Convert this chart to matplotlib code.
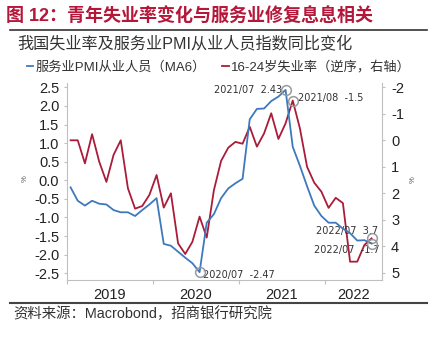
import numpy as np
import matplotlib
matplotlib.use('Agg')
import matplotlib.pyplot as plt
from matplotlib.lines import Line2D

plt.rcParams['font.family'] = ['Liberation Sans', 'Noto Sans CJK SC']

# monthly data, 2019/01 .. 2022/07
months = ['2019/%02d' % m for m in range(1, 13)] + \
         ['2020/%02d' % m for m in range(1, 13)] + \
         ['2021/%02d' % m for m in range(1, 13)] + \
         ['2022/%02d' % m for m in range(1, 8)]

# services PMI employment index, yoy change (MA6), left axis
pmi_emp = [-0.19, -0.55, -0.68, -0.55, -0.63, -0.65, -0.80, -0.86, -0.86, -0.96, -0.80, -0.65,
           -0.48, -1.71, -1.76, -1.92, -2.08, -2.23, -2.47, -1.14, -0.91, -0.48, -0.22, -0.08,
           0.04, 1.64, 1.92, 1.93, 2.13, 2.25, 2.43, 0.90, 0.39, -0.16, -0.68, -0.96,
           -1.14, -1.14, -1.30, -1.42, -1.62, -1.61, -1.70]

# 16-24 unemployment rate, yoy change, right axis (inverted)
youth_unemp = [0.00, 0.00, 0.87, -0.23, 0.81, 1.57, 0.55, 0.00, 1.81, 2.58, 2.48, 2.06,
               1.31, 2.54, 2.00, 3.89, 4.29, 3.83, 2.88, 3.67, 1.88, 0.78, 0.28, 0.06,
               0.13, -0.51, 0.24, -0.26, -1.02, -0.05, -0.64, -1.50, -0.45, 1.00, 1.60, 1.94,
               2.55, 2.17, 2.37, 4.58, 4.58, 3.95, 3.70]

years = [2019, 2020, 2021, 2022]
left_ticks = [2.5, 2.0, 1.5, 1.0, 0.5, 0.0, -0.5, -1.0, -1.5, -2.0, -2.5]
right_ticks = [-2, -1, 0, 1, 2, 3, 4, 5]

blue = '#3D79BC'
red = '#A91C3A'
grey = '#BFBFBF'


def to_x(s):
    y, m = s.split('/')
    return int(y) + (int(m) - 0.5) / 12


x = np.array([to_x(m) for m in months])
xmax = 2022.663

fig = plt.figure(figsize=(4.38, 3.41), dpi=100)
ax = fig.add_axes([67 / 438, 1 - 279.5 / 341, 315 / 438, (279.5 - 83) / 341])
ax2 = ax.twinx()

l1, = ax.plot(x, pmi_emp, color=blue, lw=1.3, zorder=3)
l2, = ax2.plot(x, youth_unemp, color=red, lw=1.3, zorder=2)

ax.set_xlim(2019.0, xmax)
ax.set_ylim(-2.667, 2.616)
ax2.set_ylim(5.253, -2.162)

ax.set_yticks(left_ticks)
ax.set_yticklabels(['%.1f' % v for v in left_ticks])
ax2.set_yticks(right_ticks)
ax2.set_yticklabels([str(v) for v in right_ticks])

# year ticks at boundaries, labels centred in each year
ax.set_xticks(years)
ax.set_xticklabels([])
centres = [2019.5, 2020.5, 2021.5, (2022 + xmax) / 2]
ax.set_xticks(centres, minor=True)
ax.set_xticklabels([str(y) for y in years], minor=True)
ax.tick_params(axis='x', which='minor', length=0, pad=6, labelsize=10.5, labelcolor='#222')
ax.tick_params(axis='x', which='major', length=3, color=grey)
ax.tick_params(axis='y', length=2.5, color=grey, labelsize=10.5, labelcolor='#222', pad=3)
ax2.tick_params(axis='y', length=2.5, color=grey, labelsize=10.5, labelcolor='#222', pad=4)

for a in (ax, ax2):
    a.spines['top'].set_visible(False)
    for s in ('left', 'right', 'bottom'):
        a.spines[s].set_color(grey)
ax.spines['right'].set_visible(False)
ax2.spines['left'].set_visible(False)
ax2.spines['bottom'].set_visible(False)
ax.set_zorder(ax2.get_zorder() + 1)
ax.patch.set_visible(False)


def mark(a, month, yv, text, dx, dy, ha):
    xv = to_x(month)
    a.plot(xv, yv, 'o', ms=7, mfc='none', mec='#9A9A9A', mew=1.1, zorder=6)
    a.annotate(text, (xv, yv), xytext=(dx, dy), textcoords='offset points',
               ha=ha, va='center', fontsize=7, color='#333333',
               family=['DejaVu Sans', 'Noto Sans CJK SC'])


mark(ax, '2021/07', 2.43, '2021/07  2.43', -2.5, 0, 'right')
mark(ax2, '2021/08', -1.5, '2021/08  -1.5', 4, 2, 'left')
mark(ax, '2020/07', -2.47, '2020/07  -2.47', 2.5, -2, 'left')
mark(ax2, '2022/07', 3.7, '2022/07  3.7', 5, 5.5, 'right')
mark(ax, '2022/07', -1.70, '2022/07  -1.7', 5.5, -5, 'right')

fig.legend([l1, l2], ['服务业PMI从业人员（MA6）', '16-24岁失业率（逆序，右轴）'],
           loc='center', bbox_to_anchor=(0.50, 1 - 67 / 341), ncol=2, frameon=False,
           handlelength=0.5, handletextpad=0.2, columnspacing=1.2,
           prop={'family': ['Liberation Sans', 'Noto Sans CJK SC'], 'size': 9.5},
           labelcolor='#333333')

fig.text(25 / 438, 1 - 179 / 341, '%', rotation=90, fontsize=5.5, color='#555555',
         ha='center', va='center')
fig.text(413 / 438, 1 - 180 / 341, '%', rotation=90, fontsize=5.5, color='#555555',
         ha='center', va='center')

fig.text(6 / 438, 1 - 17 / 341, '图 12：青年失业率变化与服务业修复息息相关',
         fontsize=13, fontweight='bold', color='#B4173A', va='center')
fig.add_artist(Line2D([10 / 438, 427 / 438], [1 - 30 / 341] * 2, color='#333333', lw=1.2))
fig.text(17 / 438, 1 - 44 / 341, '我国失业率及服务业PMI从业人员指数同比变化',
         fontsize=11.6, color='#333333', va='center')
fig.add_artist(Line2D([10 / 438, 427 / 438], [1 - 303 / 341] * 2, color='#444444', lw=1.5))
fig.text(13 / 438, 1 - 314 / 341, '资料来源：Macrobond，招商银行研究院',
         fontsize=10.4, color='#333333', va='center')

fig.savefig('out.png', dpi=100)
